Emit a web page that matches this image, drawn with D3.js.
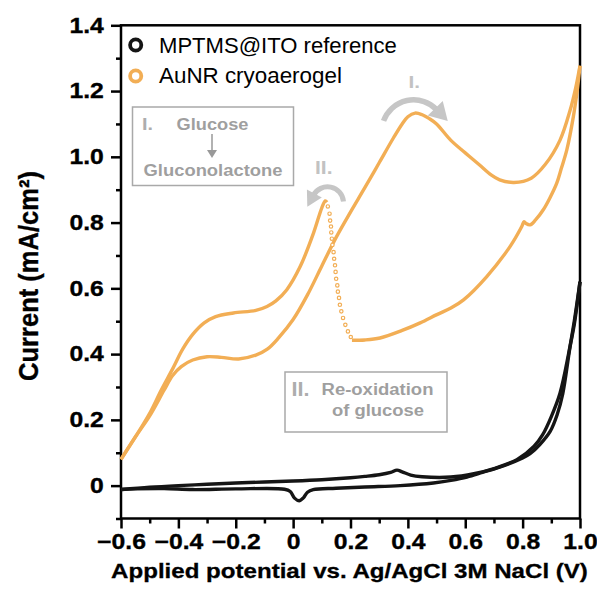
<!DOCTYPE html>
<html><head><meta charset="utf-8">
<script src="https://cdn.jsdelivr.net/npm/d3@7"></script>
<style>html,body{margin:0;padding:0;background:#fff}svg{display:block}</style>
</head><body>
<svg id="chart" width="597" height="591"></svg>
<script>
// ---------- DATA ----------
const seriesNames = ["MPTMS@ITO reference", "AuNR cryoaerogel"];
const xTicks = [-0.6, -0.4, -0.2, 0, 0.2, 0.4, 0.6, 0.8, 1.0];
const yTicks = [0, 0.2, 0.4, 0.6, 0.8, 1.0, 1.2, 1.4];
const xMinorTicks = [-0.5, -0.3, -0.1, 0.1, 0.3, 0.5, 0.7, 0.9];
const yMinorTicks = [-0.1, 0.1, 0.3, 0.5, 0.7, 0.9, 1.1, 1.3];

// AuNR cryoaerogel: forward (anodic) scan
const auFwdE = [-0.6,-0.55,-0.5,-0.45,-0.42,-0.39,-0.35,-0.3,-0.25,-0.19,-0.13,-0.09,-0.05,0.0,0.05,0.1,0.15,0.2,0.25,0.3,0.35,0.38,0.40,0.425,0.45,0.475,0.5,0.55,0.6,0.65,0.69,0.72,0.77,0.83,0.88,0.93,0.965,0.985,1.0];
const auFwdI = [0.08,0.148,0.212,0.29,0.335,0.362,0.382,0.392,0.39,0.385,0.397,0.415,0.45,0.505,0.58,0.668,0.755,0.832,0.906,0.982,1.058,1.1,1.122,1.133,1.128,1.116,1.1,1.05,1.012,0.975,0.945,0.93,0.922,0.935,0.978,1.05,1.14,1.21,1.277];
// AuNR cryoaerogel: reverse scan 1.0 V -> 0.2 V
const auRevE = [1.0,0.99,0.977,0.954,0.935,0.919,0.895,0.872,0.845,0.826,0.812,0.805,0.797,0.756,0.675,0.594,0.55,0.501,0.443,0.38,0.303,0.25,0.205];
const auRevI = [1.277,1.2,1.123,1.021,0.965,0.92,0.875,0.839,0.808,0.793,0.797,0.803,0.788,0.727,0.636,0.565,0.54,0.52,0.495,0.472,0.449,0.443,0.442];
// AuNR cryoaerogel: fast re-oxidation rise (sparse recorded points)
const auDropE = [0.201,0.191,0.182,0.174,0.168,0.163,0.160,0.156,0.154,0.150,0.148,0.146,0.143,0.141,0.137,0.135,0.133,0.132,0.129,0.127,0.121];
const auDropI = [0.452,0.469,0.489,0.510,0.530,0.550,0.571,0.590,0.609,0.629,0.650,0.670,0.690,0.710,0.732,0.751,0.770,0.788,0.806,0.827,0.849];
// AuNR cryoaerogel: reverse scan from re-oxidation peak back to -0.6 V
const auRetE = [0.118,0.112,0.1,0.071,0.025,-0.022,-0.06,-0.091,-0.13,-0.208,-0.27,-0.31,-0.35,-0.385,-0.42,-0.46,-0.5,-0.55,-0.6];
const auRetI = [0.862,0.866,0.845,0.768,0.667,0.596,0.562,0.545,0.533,0.525,0.514,0.495,0.46,0.415,0.355,0.29,0.22,0.148,0.08];

// MPTMS@ITO reference: forward and reverse scans
const refFwdE = [-0.6,-0.5,-0.4,-0.3,-0.2,-0.1,0.0,0.1,0.2,0.25,0.3,0.34,0.362,0.38,0.41,0.45,0.55,0.63,0.7,0.78,0.84,0.87,0.9,0.93,0.96,0.98,1.0];
const refFwdI = [-0.012,-0.005,0.0,0.004,0.008,0.011,0.014,0.018,0.024,0.028,0.033,0.04,0.047,0.042,0.032,0.027,0.026,0.036,0.052,0.079,0.12,0.155,0.21,0.28,0.40,0.50,0.62];
const refRevE = [1.0,0.98,0.965,0.94,0.92,0.896,0.86,0.826,0.8,0.72,0.66,0.606,0.55,0.489,0.373,0.25,0.15,0.07,0.05,0.035,0.021,0.005,-0.01,-0.03,-0.2,-0.35,-0.45,-0.55,-0.6];
const refRevI = [0.62,0.49,0.42,0.28,0.215,0.165,0.125,0.097,0.084,0.056,0.04,0.026,0.016,0.008,0.0,-0.004,-0.008,-0.012,-0.02,-0.038,-0.046,-0.038,-0.018,-0.011,-0.01,-0.012,-0.009,-0.01,-0.012];

// ---------- STYLE ----------
const ORANGE = "#F2AE55";
const BLACK = "#151515";
const FONT = "'Liberation Sans', Arial, Helvetica, sans-serif";

const svg = d3.select("#chart");
svg.append("rect").attr("width",597).attr("height",591).attr("fill","#fff");

const x = d3.scaleLinear().domain([-0.6, 1.0]).range([121, 580]);
const y = d3.scaleLinear().domain([-0.1, 1.4]).range([518.5, 25.3]);

const zip = (a, b) => a.map((v, i) => [v, b[i]]);
const line = d3.line().x(d => x(d[0])).y(d => y(d[1])).curve(d3.curveCatmullRom.alpha(0.5));

function label(g, txt, px, py, o) {
  const t = g.append("text").text(txt)
    .attr("font-family", FONT)
    .attr("font-size", o.size)
    .attr("font-weight", o.weight || "bold")
    .attr("fill", o.fill || "#000")
    .attr("text-anchor", o.anchor || "start");
  let sx = o.sx || 1;
  if (o.width) { sx = o.width / t.node().getComputedTextLength(); }
  t.attr("transform", `translate(${px},${py}) scale(${sx},1)`);
  return t;
}

// ---------- AXES ----------
const gx = svg.append("g").attr("transform", `translate(0,${y(-0.1)})`)
  .call(d3.axisBottom(x).tickValues(xTicks).tickSize(10).tickPadding(5)
    .tickFormat(d => d === 0 ? "0" : d3.format(".1f")(d).replace("-", "\u2212")));
const gxm = svg.append("g").attr("transform", `translate(0,${y(-0.1)})`)
  .call(d3.axisBottom(x).tickValues(xMinorTicks).tickSize(5).tickFormat(""));
const gy = svg.append("g").attr("transform", `translate(${x(-0.6)},0)`)
  .call(d3.axisLeft(y).tickValues(yTicks).tickSize(10).tickPadding(5)
    .tickFormat(d => d === 0 ? "0" : d3.format(".1f")(d)));
const gym = svg.append("g").attr("transform", `translate(${x(-0.6)},0)`)
  .call(d3.axisLeft(y).tickValues(yMinorTicks).tickSize(5).tickFormat(""));

[gx, gxm, gy, gym].forEach(g => {
  g.select(".domain").remove();
  g.selectAll(".tick line").attr("stroke", "#000").attr("stroke-width", 2.5);
});
[gx, gy].forEach(g => g.selectAll(".tick text")
  .attr("font-family", FONT).attr("font-size", 21.5).attr("font-weight", "bold").attr("fill", "#000")
  .attr("stroke", "#000").attr("stroke-width", 0.35));
gx.selectAll(".tick text").attr("transform", "scale(1.15,1)");
gy.selectAll(".tick text").attr("transform", "scale(1.15,1)");

// frame
svg.append("rect")
  .attr("x", x(-0.6)).attr("y", y(1.4))
  .attr("width", x(1.0) - x(-0.6)).attr("height", y(-0.1) - y(1.4))
  .attr("fill", "none").attr("stroke", "#000").attr("stroke-width", 2.5);

// axis titles
label(svg, "Applied potential vs. Ag/AgCl 3M NaCl (V)", 349.5, 578, {size: 20.5, anchor: "middle", width: 477})
  .attr("stroke", "#000").attr("stroke-width", 0.3);
(function(){
  const t = svg.append("text").text("Current (mA/cm\u00B2)")
    .attr("font-family", FONT).attr("font-size", 23).attr("font-weight", "bold")
    .attr("fill", "#000").attr("text-anchor", "middle")
    .attr("stroke", "#000").attr("stroke-width", 0.3);
  const s = 210 / t.node().getComputedTextLength();
  t.attr("transform", `translate(38,276) rotate(-90) scale(${s},1.22)`);
})();

// ---------- DATA MARKS ----------
svg.append("path").datum(zip(refFwdE, refFwdI)).attr("d", line)
  .attr("fill", "none").attr("stroke", BLACK).attr("stroke-width", 3.4);
svg.append("path").datum(zip(refRevE, refRevI)).attr("d", line)
  .attr("fill", "none").attr("stroke", BLACK).attr("stroke-width", 3.4);

[zip(auFwdE, auFwdI), zip(auRevE, auRevI), zip(auRetE, auRetI)].forEach(d =>
  svg.append("path").datum(d).attr("d", line)
    .attr("fill", "none").attr("stroke", ORANGE).attr("stroke-width", 3.4)
    .attr("stroke-linejoin", "round"));
svg.append("g").selectAll("circle").data(zip(auDropE, auDropI)).join("circle")
  .attr("cx", d => x(d[0])).attr("cy", d => y(d[1])).attr("r", 1.7)
  .attr("fill", "#fff").attr("stroke", ORANGE).attr("stroke-width", 1.2);

// ---------- LEGEND ----------
const legColors = [BLACK, ORANGE];
seriesNames.forEach((n, i) => {
  svg.append("circle").attr("cx", 135.7).attr("cy", 45 + i * 31).attr("r", 5.6)
    .attr("fill", "#fff").attr("stroke", legColors[i]).attr("stroke-width", 3.8);
  label(svg, n, 159, 52.7 + i * 30.6, {size: 21.5, weight: "normal", width: i === 0 ? 238 : 183});
});

// ---------- ANNOTATIONS ----------
const GRAY_BOX = "#a9a9a9", GRAY_TXT = "#9f9f9f", GRAY_ARR = "#c6c6c6";
svg.append("rect").attr("x", 132.5).attr("y", 107).attr("width", 161).attr("height", 78.5)
  .attr("fill", "#fff").attr("stroke", GRAY_BOX).attr("stroke-width", 1.5);
label(svg, "I.", 142, 129.5, {size: 17, fill: "#adadad", width: 11});
label(svg, "Glucose", 212.5, 129.5, {size: 17, fill: GRAY_TXT, anchor: "middle", width: 72});
svg.append("line").attr("x1", 212).attr("x2", 212).attr("y1", 134).attr("y2", 151)
  .attr("stroke", "#999").attr("stroke-width", 1.5);
svg.append("path").attr("d", "M207,150 L217,150 L212,158 Z").attr("fill", "#999");
label(svg, "Gluconolactone", 213, 175.5, {size: 17, fill: GRAY_TXT, anchor: "middle", width: 139});

svg.append("rect").attr("x", 285).attr("y", 372).attr("width", 162).attr("height", 60)
  .attr("fill", "#fff").attr("stroke", GRAY_BOX).attr("stroke-width", 1.5);
label(svg, "II.", 291.5, 395.5, {size: 20, fill: "#adadad", width: 18});
label(svg, "Re-oxidation", 377.5, 394.5, {size: 17, fill: GRAY_TXT, anchor: "middle", width: 112});
label(svg, "of glucose", 378, 415.5, {size: 17, fill: GRAY_TXT, anchor: "middle", width: 92});

function arcArrow(cx, cy, r, a0, a1, head, sw) {
  const rad = Math.PI / 180;
  const p = a => [cx + r * Math.cos(a * rad), cy + r * Math.sin(a * rad)];
  const [sx0, sy0] = p(a0), [ex, ey] = p(a1);
  const cw = a1 > a0;
  svg.append("path")
    .attr("d", `M${sx0},${sy0} A${r},${r} 0 0 ${cw ? 1 : 0} ${ex},${ey}`)
    .attr("fill", "none").attr("stroke", GRAY_ARR).attr("stroke-width", sw);
  const t = cw ? [-Math.sin(a1 * rad), Math.cos(a1 * rad)] : [Math.sin(a1 * rad), -Math.cos(a1 * rad)];
  const n = [-t[1], t[0]];
  const tip = [ex + t[0] * head, ey + t[1] * head];
  const b1 = [ex + n[0] * head * 0.65 - t[0] * 2, ey + n[1] * head * 0.65 - t[1] * 2];
  const b2 = [ex - n[0] * head * 0.65 - t[0] * 2, ey - n[1] * head * 0.65 - t[1] * 2];
  svg.append("path").attr("d", `M${tip} L${b1} L${b2} Z`).attr("fill", GRAY_ARR);
}
arcArrow(x(0.42), y(1.076), 32, -160, -44, 16, 5.5);
arcArrow(x(0.12), y(0.86), 16, -5, -152, 13, 5);
label(svg, "I.", 408.5, 87.5, {size: 17, fill: "#c2c2c2", width: 11.5});
label(svg, "II.", 315, 173.5, {size: 19, fill: "#c2c2c2", width: 17.5});
</script>
</body></html>
